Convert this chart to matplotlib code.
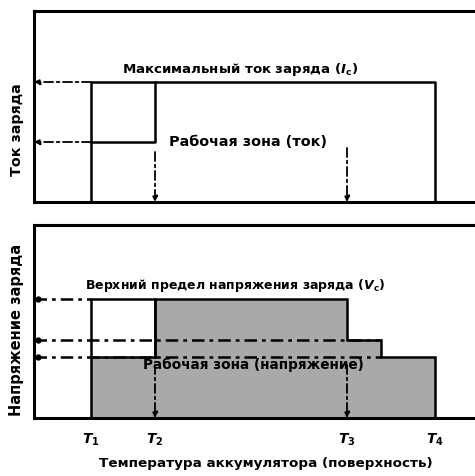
import matplotlib
matplotlib.use("Agg")
import matplotlib.pyplot as plt
from matplotlib.patches import Polygon

plt.rcParams['font.family'] = ['DejaVu Sans']

# Temperatures (arbitrary positions along x)
t_names = [r"$\boldsymbol{T}_{\mathbf{1}}$", r"$\boldsymbol{T}_{\mathbf{2}}$",
           r"$\boldsymbol{T}_{\mathbf{3}}$", r"$\boldsymbol{T}_{\mathbf{4}}$"]
t_pos = [57, 121, 313, 401]          # T1..T4
t_mid = 347                          # right end of middle voltage step

# Current panel (arbitrary units)
i_max = 120
i_low = 60
i_arrow_top = [50, 54]               # top ends of vertical arrows at T2, T3

# Voltage panel (arbitrary units)
v_levels = [119, 78, 61]             # upper limit, middle, lower step
v_arrow_top = 53

gray = "#a9a9a9"
W = 1.02

fig = plt.figure(figsize=(4.75, 4.76), dpi=100)
ax1 = fig.add_axes([34/475, 1-202/476, W, 191/476])
ax2 = fig.add_axes([34/475, 1-418/476, W, 193/476])

for ax in (ax1, ax2):
    ax.set_xlim(0, W * 475)
    for s in ax.spines.values():
        s.set_linewidth(2.2)
    ax.set_xticks([])
    ax.set_yticks([])

dd = (0, (5, 2, 1.5, 2))

# ---------------- top panel ----------------
ax1.set_ylim(0, 191)
T1, T2, T3, T4 = t_pos
ax1.plot([T1, T1, T4, T4], [0, i_max, i_max, 0], color="black", lw=1.8)
ax1.plot([T1, T2, T2], [i_low, i_low, i_max], color="black", lw=1.8)
for y in (i_max, i_low):
    ax1.annotate("", xy=(0, y), xytext=(T1, y),
                 arrowprops=dict(arrowstyle="-|>", lw=1.3, linestyle=dd,
                                 color="black", mutation_scale=8, shrinkA=0, shrinkB=0))
for x, yt in zip([T2, T3], i_arrow_top):
    ax1.annotate("", xy=(x, 0), xytext=(x, yt),
                 arrowprops=dict(arrowstyle="-|>", lw=1.3, linestyle=dd,
                                 color="black", mutation_scale=8, shrinkA=0, shrinkB=0))
ax1.text(206, 133, "Максимальный ток заряда ($\\mathbfit{I}_{\\mathbf{c}}$)",
         ha="center", va="center", fontsize=9.6, fontweight="bold")
ax1.text(214, 60, "Рабочая зона (ток)", ha="center", va="center",
         fontsize=10.4, fontweight="bold")
ax1.set_ylabel("Ток заряда", fontsize=10.3, fontweight="bold")
ax1.yaxis.set_label_coords(-0.021, 0.38)

# ---------------- bottom panel ----------------
ax2.set_ylim(0, 193)
v_hi, v_md, v_lo = v_levels
poly = Polygon([(T1, 0), (T1, v_lo), (T2, v_lo), (T2, v_hi), (T3, v_hi), (T3, v_md),
                (t_mid, v_md), (t_mid, v_lo), (T4, v_lo), (T4, 0)],
               closed=True, facecolor=gray, edgecolor="black", lw=1.8)
ax2.add_patch(poly)
ax2.plot([T1, T1, T2, T2], [v_lo, v_hi, v_hi, v_lo], color="black", lw=1.8)
ax2.plot([0, T1], [v_hi, v_hi], color="black", lw=1.8, linestyle=dd)
ax2.plot([0, t_mid], [v_md, v_md], color="black", lw=1.8, linestyle=dd)
ax2.plot([0, t_mid], [v_lo, v_lo], color="black", lw=1.8, linestyle=dd)
ax2.plot([4] * 3, v_levels, "o", color="black", ms=3.5, clip_on=False)
for x in (T2, T3):
    ax2.annotate("", xy=(x, 0), xytext=(x, v_arrow_top),
                 arrowprops=dict(arrowstyle="-|>", lw=1.3, linestyle=dd,
                                 color="black", mutation_scale=8, shrinkA=0, shrinkB=0))
ax2.text(201, 133, "Верхний предел напряжения заряда ($\\mathbfit{V}_{\\mathbf{c}}$)",
         ha="center", va="center", fontsize=9.0, fontweight="bold")
ax2.text(219, 53, "Рабочая зона (напряжение)", ha="center", va="center",
         fontsize=9.8, fontweight="bold")
ax2.set_ylabel("Напряжение заряда", fontsize=10.5, fontweight="bold")
ax2.yaxis.set_label_coords(-0.021, 0.456)

ax2.set_xticks(t_pos)
ax2.set_xticklabels(t_names, fontsize=10)
ax2.tick_params(axis="x", length=0, pad=10)
ax2.set_xlabel("Температура аккумулятора (поверхность)", fontsize=9.7,
               fontweight="bold")
ax2.xaxis.set_label_coords((266 - 34) / (W * 475), -0.2)

fig.savefig("out.png", dpi=100)
